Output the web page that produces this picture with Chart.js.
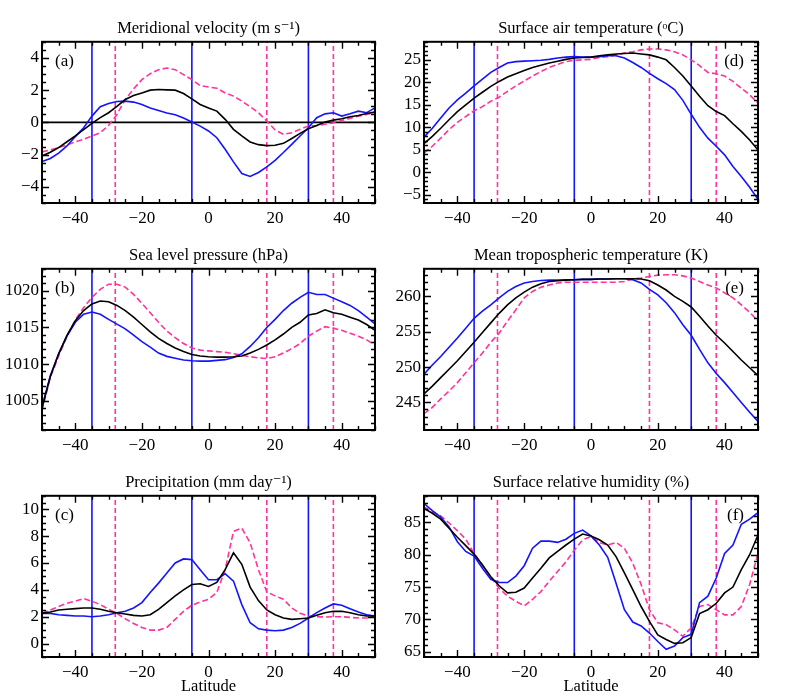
<!DOCTYPE html>
<html>
<head>
<meta charset="utf-8">
<script src="https://cdn.jsdelivr.net/npm/chart.js@4.4.1/dist/chart.umd.min.js"></script>
<style>
html,body{margin:0;padding:0;background:#ffffff;}
#wrap{position:relative;width:799px;height:700px;overflow:hidden;background:#fff;}
#wrap canvas{position:absolute;}
</style>
</head>
<body>
<div id="wrap">
  <canvas id="cA" width="400" height="227" style="left:0px;top:0px;width:400px;height:227px"></canvas>
  <canvas id="cD" width="400" height="227" style="left:382px;top:0px;width:400px;height:227px"></canvas>
  <canvas id="cB" width="400" height="227" style="left:0px;top:227px;width:400px;height:227px"></canvas>
  <canvas id="cE" width="400" height="227" style="left:382px;top:227px;width:400px;height:227px"></canvas>
  <canvas id="cC" width="400" height="243" style="left:0px;top:454px;width:400px;height:243px"></canvas>
  <canvas id="cF" width="400" height="243" style="left:382px;top:454px;width:400px;height:243px"></canvas>
</div>
<script>
// ---------------- DATA ----------------
const latitudes = [-50,-47.5,-45,-42.5,-40,-37.5,-35,-32.5,-30,-27.5,-25,-22.5,-20,-17.5,-15,-12.5,-10,-7.5,-5,-2.5,0,2.5,5,7.5,10,12.5,15,17.5,20,22.5,25,27.5,30,32.5,35,37.5,40,42.5,45,47.5,50];

const xTickLabels = [-40, -20, 0, 20, 40];
const blueLineLats = [-35, -5, 30];
const pinkLineLats = [-28, 17.5, 37.5];

// (a) Meridional velocity (m s-1)
const velocityBlack = [-2.08,-1.85,-1.56,-1.2,-0.84,-0.45,-0.06,0.3,0.6,1.0,1.42,1.67,1.83,2.0,2.04,2.02,2.0,1.79,1.46,1.11,0.9,0.7,0.19,-0.43,-0.84,-1.21,-1.38,-1.44,-1.42,-1.3,-1.0,-0.68,-0.39,-0.19,0.02,0.14,0.23,0.35,0.43,0.55,0.64];
const velocityBlue  = [-2.43,-2.24,-1.91,-1.46,-0.88,-0.33,0.39,0.97,1.17,1.3,1.32,1.26,1.11,0.9,0.74,0.58,0.47,0.27,0.02,-0.23,-0.53,-0.95,-1.67,-2.45,-3.17,-3.35,-3.11,-2.76,-2.35,-1.87,-1.36,-0.84,-0.33,0.29,0.53,0.6,0.39,0.53,0.7,0.6,0.9];
const velocityPink  = [-1.83,-1.71,-1.56,-1.4,-1.21,-1.05,-0.84,-0.64,-0.19,0.49,1.42,2.08,2.65,3.02,3.27,3.37,3.27,2.96,2.65,2.28,2.2,2.12,1.83,1.63,1.32,0.97,0.6,0.08,-0.47,-0.74,-0.64,-0.43,-0.23,-0.19,-0.12,-0.02,0.12,0.25,0.39,0.49,0.64];
const velocityRange = [-5, 5];
const velocityTicks = [-4, -2, 0, 2, 4];

// (b) Sea level pressure (hPa)
const slpBlack = [1004.0,1008.3,1011.4,1013.9,1015.9,1017.3,1018.2,1018.6,1018.5,1018.0,1017.3,1016.4,1015.4,1014.4,1013.5,1012.8,1012.2,1011.7,1011.3,1011.1,1011.0,1010.95,1010.95,1011.0,1011.1,1011.5,1012.0,1012.6,1013.3,1014.1,1015.0,1015.7,1016.7,1016.9,1017.4,1017.0,1016.8,1016.4,1016.0,1015.4,1014.6];
const slpBlue  = [1004.2,1008.4,1011.4,1013.8,1015.7,1016.8,1017.1,1016.8,1016.1,1015.45,1014.8,1013.95,1013.05,1012.3,1011.5,1011.05,1010.8,1010.55,1010.45,1010.4,1010.4,1010.5,1010.6,1010.9,1011.4,1012.4,1013.6,1015.0,1016.1,1017.3,1018.3,1019.1,1019.8,1019.5,1019.5,1019.0,1018.5,1018.0,1017.3,1016.4,1015.5];
const slpPink  = [1003.6,1008.2,1011.1,1013.8,1016.0,1017.7,1019.1,1020.2,1020.9,1020.9,1020.5,1019.5,1018.3,1017.0,1015.7,1014.5,1013.6,1012.8,1012.2,1011.9,1011.8,1011.7,1011.6,1011.4,1011.2,1011.0,1010.85,1010.75,1011.0,1011.5,1012.1,1012.8,1013.8,1014.5,1015.1,1014.9,1014.6,1014.2,1013.8,1013.3,1012.6];
const slpRange = [1001, 1023];
const slpTicks = [1005, 1010, 1015, 1020];

// (c) Precipitation (mm day-1)
const precipBlack = [2.25,2.35,2.5,2.55,2.6,2.65,2.65,2.55,2.4,2.3,2.2,2.1,2.05,2.15,2.55,3.05,3.55,4.0,4.4,4.45,4.25,4.55,5.5,6.75,5.9,4.2,3.2,2.5,2.15,1.9,1.8,1.85,1.9,2.1,2.3,2.4,2.4,2.3,2.15,2.05,2.05];
const precipBlue  = [2.25,2.25,2.15,2.1,2.05,2.05,2.0,2.05,2.15,2.3,2.4,2.65,3.05,3.8,4.5,5.25,6.0,6.3,6.25,5.5,4.75,4.75,5.2,4.65,2.9,1.55,1.1,1.0,0.95,1.0,1.2,1.5,1.9,2.3,2.65,2.95,2.85,2.6,2.35,2.15,2.05];
const precipPink  = [2.25,2.5,2.75,3.0,3.15,3.35,3.15,2.9,2.55,2.25,1.85,1.5,1.2,1.0,1.0,1.2,1.8,2.4,2.85,3.1,3.3,3.8,5.5,8.35,8.6,7.5,5.5,3.85,3.55,3.3,2.65,2.25,2.05,2.0,1.98,2.0,2.0,1.95,1.9,1.9,2.05];
const precipRange = [-1, 11];
const precipTicks = [0, 2, 4, 6, 8, 10];

// (d) Surface air temperature (oC)
const satBlack = [6.4,8.0,9.8,11.7,13.5,15.0,16.5,17.8,19.1,20.2,21.2,21.9,22.6,23.3,23.8,24.3,24.7,25.1,25.4,25.5,25.6,25.9,26.1,26.3,26.4,26.5,26.3,26.1,25.6,25.0,23.3,21.4,19.2,16.9,14.8,13.5,12.6,10.8,9.1,7.2,5.0];
const satBlue  = [7.8,9.8,12.1,14.3,16.1,17.6,19.2,20.7,22.2,23.3,24.3,24.6,24.7,24.8,24.9,25.1,25.4,25.6,25.7,25.6,25.6,25.7,25.9,25.9,25.4,24.4,23.3,22.0,20.8,19.7,18.4,16.0,12.9,10.0,7.6,5.8,3.9,1.3,-0.9,-3.3,-6.0];
const satPink  = [4.3,5.8,7.6,9.5,11.1,12.4,13.7,14.6,15.8,16.7,18.0,19.2,20.3,21.4,22.4,23.3,24.0,24.6,24.9,25.0,25.1,25.5,25.7,26.1,26.5,26.8,27.2,27.4,27.4,27.2,26.8,26.1,25.0,23.7,22.2,21.9,21.4,20.2,18.7,17.2,15.4];
const satRange = [-6.8, 29];
const satTicks = [-5, 0, 5, 10, 15, 20, 25];

// (e) Mean tropospheric temperature (K)
const tropBlack = [246.2,247.3,248.5,249.7,250.9,252.2,253.5,254.9,256.25,257.6,258.8,259.8,260.6,261.3,261.8,262.1,262.2,262.3,262.35,262.4,262.4,262.45,262.45,262.5,262.5,262.5,262.45,262.2,261.6,260.9,260.0,259.3,258.5,257.2,255.8,254.5,253.4,252.2,251.0,249.9,248.8];
const tropBlue  = [249.0,250.3,251.5,252.8,254.1,255.5,256.9,257.9,258.8,259.8,260.7,261.4,261.9,262.1,262.25,262.3,262.3,262.35,262.35,262.4,262.4,262.45,262.45,262.5,262.5,262.35,261.9,261.0,260.2,259.1,257.7,256.0,254.5,252.5,250.6,249.1,247.8,246.4,245.0,243.6,242.3];
const tropPink  = [243.4,244.3,245.5,246.6,247.8,249.2,250.6,252.0,253.5,254.8,256.5,258.1,259.8,260.7,261.3,261.6,261.9,262.0,262.0,262.0,262.0,262.0,262.0,262.0,262.1,262.45,262.6,262.8,263.0,263.05,263.05,262.9,262.6,262.1,261.6,261.2,260.5,259.8,258.8,257.75,256.5];
const tropRange = [241.1, 263.9];
const tropTicks = [245, 250, 255, 260];

// (f) Surface relative humidity (%)
const rhBlack = [87.15,86.4,85.5,84.1,82.7,81.4,80.1,78.4,76.6,75.2,74.1,74.2,74.85,76.4,77.9,79.5,80.5,81.5,82.4,83.2,82.9,82.3,81.5,79.7,77.2,74.6,72.0,69.7,67.6,66.9,66.3,66.4,67.2,70.9,71.5,72.5,74.1,75.0,77.7,80.0,83.05];
const rhBlue  = [87.9,86.8,85.8,84.3,82.0,80.5,79.8,77.9,76.2,75.7,75.7,76.7,78.3,81.0,82.1,82.1,81.9,82.4,83.3,83.8,82.9,81.5,79.6,75.6,71.5,69.6,69.0,67.9,66.6,65.4,65.9,67.2,67.7,72.6,73.6,76.4,80.2,81.5,84.7,85.5,86.5];
const rhPink  = [87.4,86.6,86.0,84.9,83.7,82.4,80.2,78.4,76.6,74.8,73.6,72.8,72.1,73.1,74.3,75.9,77.4,78.9,80.7,82.3,82.8,81.9,81.5,81.9,81.0,78.7,75.4,71.5,69.5,69.2,68.4,67.4,68.7,72.0,72.3,71.5,70.7,70.7,72.0,75.4,80.2];
const rhRange = [64.2, 89.1];
const rhTicks = [65, 70, 75, 80, 85];

// ---------------- STYLE ----------------
const SERIF = '"Liberation Serif", "Times New Roman", "DejaVu Serif", serif';
const BLUE = '#1414ff';
const PINK = '#ff3399';
const BLACK = '#000000';

function fmt(v) {
  return v < 0 ? '\u2212' + Math.abs(v) : String(v);
}

const frameTicks = {
  id: 'frameTicks',
  afterDraw(chart, args, o) {
    const { ctx, chartArea: a } = chart;
    const x = chart.scales.x, y = chart.scales.y;
    ctx.save();
    ctx.strokeStyle = '#000';
    ctx.lineWidth = 1.4;
    ctx.beginPath();
    const isMul = (v, m) => Math.abs(v / m - Math.round(v / m)) < 1e-6;
    for (let k = Math.ceil(x.min / o.xMinor - 1e-9); k * o.xMinor <= x.max + 1e-9; k++) {
      const v = k * o.xMinor;
      const px = Math.round(x.getPixelForValue(v)) + 0.5;
      const len = isMul(v, o.xMajor) ? 7 : 4;
      ctx.moveTo(px, a.bottom); ctx.lineTo(px, a.bottom - len);
      ctx.moveTo(px, a.top); ctx.lineTo(px, a.top + len);
    }
    for (let k = Math.ceil(y.min / o.yMinor - 1e-9); k * o.yMinor <= y.max + 1e-9; k++) {
      const v = k * o.yMinor;
      const py = Math.round(y.getPixelForValue(v)) + 0.5;
      const len = isMul(v, o.yMajor) ? 7 : 4;
      ctx.moveTo(a.left, py); ctx.lineTo(a.left + len, py);
      ctx.moveTo(a.right, py); ctx.lineTo(a.right - len, py);
    }
    ctx.stroke();
    ctx.lineWidth = 2;
    ctx.strokeRect(a.left, a.top, a.right - a.left, a.bottom - a.top);
    ctx.fillStyle = '#000';
    ctx.font = '17px ' + SERIF;
    ctx.textBaseline = 'middle';
    if (o.labelRight) {
      ctx.textAlign = 'right';
      ctx.fillText(o.label, a.right - 14, a.top + 20);
    } else {
      ctx.textAlign = 'left';
      ctx.fillText(o.label, a.left + 13, a.top + 20);
    }
    ctx.restore();
  }
};

function vline(lat, range, color, dash) {
  return {
    data: [{ x: lat, y: range[0] }, { x: lat, y: range[1] }],
    borderColor: color, borderWidth: 1.6, borderDash: dash, pointRadius: 0, order: 5
  };
}
function curve(vals, color, dash, ord) {
  return {
    data: latitudes.map((lat, i) => ({ x: lat, y: vals[i] })),
    borderColor: color, borderWidth: 1.6, borderDash: dash, pointRadius: 0, order: ord, tension: 0
  };
}

function makePanel(p) {
  const ds = [];
  blueLineLats.forEach(l => ds.push(vline(l, p.range, BLUE, [])));
  pinkLineLats.forEach(l => ds.push(vline(l, p.range, PINK, [5, 3])));
  if (p.zero) ds.push({ data: [{ x: -50, y: 0 }, { x: 50, y: 0 }], borderColor: BLACK, borderWidth: 1.6, pointRadius: 0, order: 4 });
  ds.push(curve(p.pink, PINK, [6, 3], 3));
  ds.push(curve(p.blue, BLUE, [], 2));
  ds.push(curve(p.black, BLACK, [], 1));

  const axisH = p.xlabel ? 40 : 24;
  new Chart(document.getElementById(p.id), {
    type: 'line',
    data: { datasets: ds },
    options: {
      responsive: false,
      animation: false,
      devicePixelRatio: 1,
      layout: { padding: { left: 0, right: p.right ? 24 : 25, top: 0, bottom: 0 } },
      plugins: {
        legend: { display: false },
        tooltip: { enabled: false },
        title: {
          display: true, text: p.title, color: '#000', fullSize: false,
          font: { family: SERIF, size: 16.5, weight: 'normal' },
          padding: { top: 19, bottom: 3 }
        },
        frameTicks: { label: p.label, labelRight: p.right, xMinor: 5, xMajor: 20, yMinor: p.yMinor, yMajor: p.yMajor }
      },
      scales: {
        x: {
          type: 'linear', min: -50, max: 50,
          grid: { display: false, drawTicks: false }, border: { display: false },
          afterBuildTicks: s => { s.ticks = xTickLabels.map(v => ({ value: v })); },
          afterFit: s => { s.height = axisH; },
          ticks: { color: '#000', font: { family: SERIF, size: 17 }, padding: 5, maxRotation: 0, autoSkip: false, callback: v => fmt(v) },
          title: { display: !!p.xlabel, text: 'Latitude', color: '#000', font: { family: SERIF, size: 16.5 }, padding: 0 }
        },
        y: {
          type: 'linear', min: p.range[0], max: p.range[1],
          grid: { display: false, drawTicks: false }, border: { display: false },
          afterBuildTicks: s => { s.ticks = p.ticks.map(v => ({ value: v })); },
          afterFit: s => { s.width = 42; },
          ticks: { color: '#000', font: { family: SERIF, size: 17 }, padding: 3, autoSkip: false, callback: v => fmt(v) }
        }
      }
    },
    plugins: [frameTicks]
  });
}

const panels = [
  { id: 'cA', title: 'Meridional velocity (m s\u207B\u00B9)', label: '(a)', right: false, black: velocityBlack, blue: velocityBlue, pink: velocityPink, range: velocityRange, ticks: velocityTicks, yMinor: 0.5, yMajor: 2, zero: true },
  { id: 'cB', title: 'Sea level pressure (hPa)', label: '(b)', right: false, black: slpBlack, blue: slpBlue, pink: slpPink, range: slpRange, ticks: slpTicks, yMinor: 1, yMajor: 5 },
  { id: 'cC', title: 'Precipitation (mm day\u207B\u00B9)', label: '(c)', right: false, black: precipBlack, blue: precipBlue, pink: precipPink, range: precipRange, ticks: precipTicks, yMinor: 0.5, yMajor: 2, xlabel: true },
  { id: 'cD', title: 'Surface air temperature (\u1D52C)', label: '(d)', right: true, black: satBlack, blue: satBlue, pink: satPink, range: satRange, ticks: satTicks, yMinor: 1, yMajor: 5 },
  { id: 'cE', title: 'Mean tropospheric temperature (K)', label: '(e)', right: true, black: tropBlack, blue: tropBlue, pink: tropPink, range: tropRange, ticks: tropTicks, yMinor: 1, yMajor: 5 },
  { id: 'cF', title: 'Surface relative humidity (%)', label: '(f)', right: true, black: rhBlack, blue: rhBlue, pink: rhPink, range: rhRange, ticks: rhTicks, yMinor: 1, yMajor: 5, xlabel: true }
];
panels.forEach(makePanel);
</script>
</body>
</html>
